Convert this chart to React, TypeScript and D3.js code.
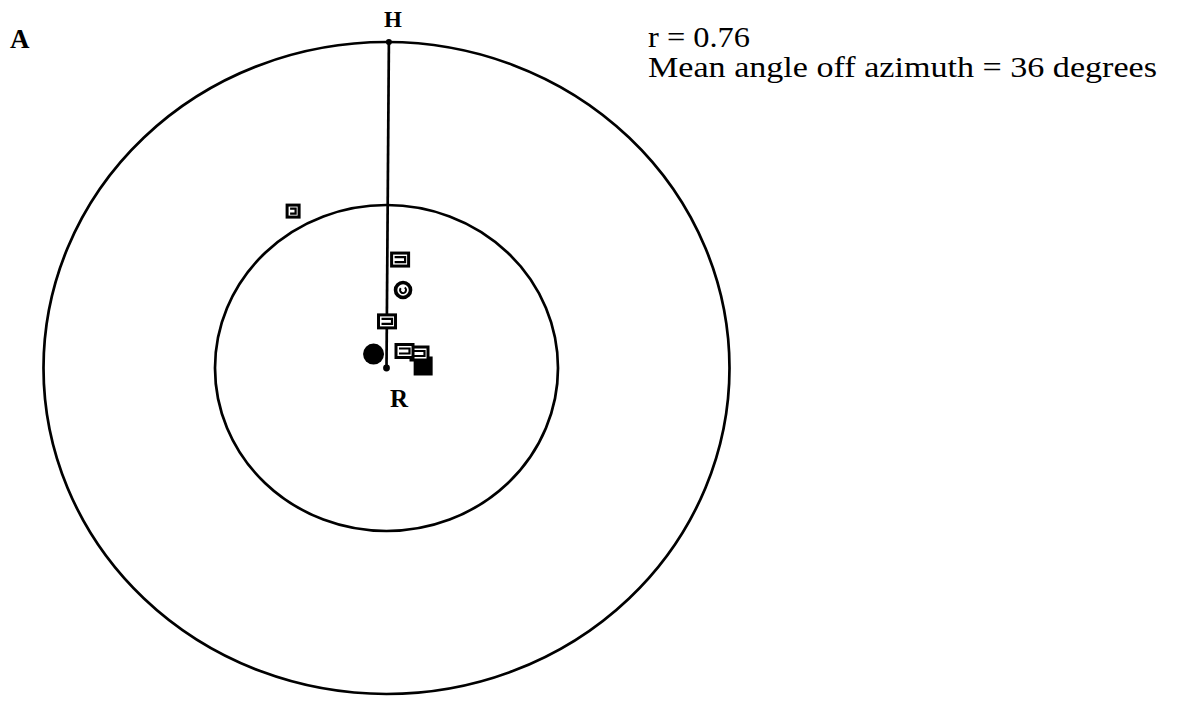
import React, { useEffect, useRef } from 'react';
import * as d3 from 'd3';

// rings (fraction of outer radius)
const rings = [0.5, 1];
// reference azimuth (R -> H), degrees clockwise from top
const azimuth = 0.4;
// markers: angle off top (deg), distance (fraction of outer radius), kind
const angles = [330.5, 6.8, 11.4, 0.6, 318.5, 86.7, 65.2, 45.2];
const distances = [0.553, 0.335, 0.244, 0.143, 0.057, 0.107, 0.106, 0.074];
const kinds = ['smallBox', 'box', 'ring', 'box', 'dot', 'filledBox', 'box', 'box'];
const rValue = 0.76;
const meanAngle = 36;

const W = 1177;
const H = 704;
const serif = '"Liberation Serif", "Times New Roman", Tinos, serif';

export default function App() {
  const ref = useRef<SVGSVGElement>(null);

  useEffect(() => {
    const svg = d3.select(ref.current);
    svg.selectAll('*').remove();

    const cx = 386.5;
    const cy = 368;
    // scanned picture is a bit stretched horizontally
    const rx = d3.scaleLinear().domain([0, 1]).range([0, 343]);
    const ry = d3.scaleLinear().domain([0, 1]).range([0, 326]);
    const pos = (a: number, d: number) => {
      const t = (a * Math.PI) / 180;
      return [cx + rx(d) * Math.sin(t), cy - ry(d) * Math.cos(t)];
    };

    const g = svg.append('g');

    // rings
    g.selectAll('ellipse.ring').data(rings).enter()
      .append('ellipse')
      .attr('cx', cx)
      .attr('cy', cy)
      .attr('rx', d => rx(d))
      .attr('ry', d => ry(d))
      .attr('fill', 'none')
      .attr('stroke', '#000')
      .attr('stroke-width', 2.7);

    // azimuth line
    const top = pos(azimuth, 1);
    g.append('line')
      .attr('x1', cx).attr('y1', cy)
      .attr('x2', top[0]).attr('y2', top[1])
      .attr('stroke', '#000')
      .attr('stroke-width', 2.7);
    g.append('circle').attr('cx', cx).attr('cy', cy).attr('r', 3.4).attr('fill', '#000');
    g.append('circle').attr('cx', top[0]).attr('cy', top[1]).attr('r', 3).attr('fill', '#000');

    // markers
    const pts = angles.map((a, i) => ({ a, d: distances[i], kind: kinds[i] }));
    const m = g.selectAll('g.mk').data(pts).enter()
      .append('g')
      .attr('transform', d => {
        const p = pos(d.a, d.d);
        return `translate(${p[0]} ${p[1]})`;
      });

    m.each(function (d) {
      const s = d3.select(this);
      if (d.kind === 'box' || d.kind === 'smallBox') {
        const w = d.kind === 'box' ? 20 : 15;
        const h = d.kind === 'box' ? 16 : 15;
        s.append('rect').attr('x', -w / 2).attr('y', -h / 2).attr('width', w).attr('height', h).attr('fill', '#000');
        s.append('rect').attr('x', -w / 2 + 3).attr('y', -h / 2 + 3)
          .attr('width', w - 6).attr('height', h - 6).attr('fill', '#fff');
        s.append('path')
          .attr('d', `M${-w / 2 + 4.5},-2.5 H${w / 2 - 5} V2.5 H${-w / 2 + 4.5}`)
          .attr('fill', 'none').attr('stroke', '#000').attr('stroke-width', 2.2);
      } else if (d.kind === 'ring') {
        s.append('circle').attr('r', 7.5).attr('fill', '#fff').attr('stroke', '#000').attr('stroke-width', 3.6);
        s.append('path')
          .attr('d', d3.arc()({ innerRadius: 2, outerRadius: 4, startAngle: 0.6, endAngle: 5.4 } as any) as string)
          .attr('fill', '#000');
      } else if (d.kind === 'dot') {
        s.append('circle').attr('r', 10.5).attr('fill', '#000');
      } else if (d.kind === 'filledBox') {
        s.append('rect').attr('x', -9.5).attr('y', -9.5).attr('width', 19).attr('height', 19).attr('fill', '#000');
      }
    });

    // labels
    const t = svg.append('g').style('font-family', serif).attr('fill', '#000');
    t.append('text').attr('x', 10).attr('y', 48).attr('font-size', 27).attr('font-weight', 'bold').text('A');
    t.append('text').attr('x', 393).attr('y', 27).attr('text-anchor', 'middle')
      .attr('font-size', 23).attr('font-weight', 'bold').text('H');
    t.append('text').attr('x', 399).attr('y', 407).attr('text-anchor', 'middle')
      .attr('font-size', 25).attr('font-weight', 'bold').text('R');
    t.append('text').attr('x', 648).attr('y', 47).attr('font-size', 30)
      .attr('textLength', 102).attr('lengthAdjust', 'spacingAndGlyphs')
      .text(`r = ${rValue.toFixed(2)}`);
    t.append('text').attr('x', 648).attr('y', 77).attr('font-size', 30)
      .attr('textLength', 509).attr('lengthAdjust', 'spacingAndGlyphs')
      .text(`Mean angle off azimuth = ${meanAngle} degrees`);
  }, []);

  return (
    <svg ref={ref} width={W} height={H}
      style={{ position: 'absolute', left: 0, top: 0, background: '#fff' }} />
  );
}
